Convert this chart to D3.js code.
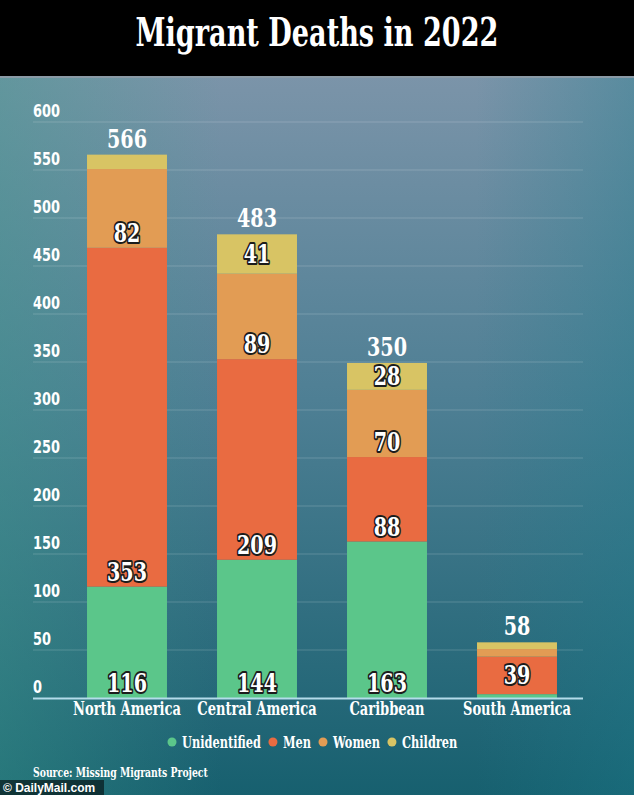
<!DOCTYPE html>
<html>
<head>
<meta charset="utf-8">
<script src="https://cdn.jsdelivr.net/npm/d3@7"></script>
<style>
  html, body { margin: 0; padding: 0; background: #000; }
  svg { display: block; }
  .serif { font-family: "DejaVu Serif", serif; font-weight: bold; }
  .sans { font-family: "DejaVu Sans", sans-serif; font-weight: bold; }
</style>
</head>
<body>
<script>
const title = "Migrant Deaths in 2022";
const categories = ["North America", "Central America", "Caribbean", "South America"];
const seriesNames = ["Unidentified", "Men", "Women", "Children"];
const unidentified = [116, 144, 163, 4];
const men = [353, 209, 88, 39];
const women = [82, 89, 70, 8];
const children = [15, 41, 28, 7];
const totals = [566, 483, 350, 58];
// which segment values are printed on the bars
const shownLabels = [
  [true, true, true, false],
  [true, true, true, true],
  [true, true, true, true],
  [false, true, false, false]
];
const yTicks = [0, 50, 100, 150, 200, 250, 300, 350, 400, 450, 500, 550, 600];
const source = "Source: Missing Migrants Project";
const credit = "© DailyMail.com";
const colors = ["#5bc68a", "#e96b41", "#e29c54", "#d8c464"];

(function () {
const W = 634, H = 795;
const svg = d3.select("body").append("svg").attr("width", W).attr("height", H);
const defs = svg.append("defs");

// condensed-text helper: a text style is squeezed horizontally so that a sample string has a given width
function squeeze(cls, size, sample, targetW) {
  const t = svg.append("text").attr("class", cls).attr("font-size", size).text(sample);
  const w = t.node().getComputedTextLength();
  t.remove();
  return targetW / w;
}
function ctext(parent, cls, size, sx, x, y, anchor, str) {
  const g = parent.append("g").attr("transform", `translate(${x},${y}) scale(${sx},1)`);
  return g.append("text").attr("class", cls).attr("font-size", size)
    .attr("text-anchor", anchor).attr("fill", "#fff").text(str);
}

// background gradient
const g1 = defs.append("linearGradient").attr("id", "bg").attr("x1", 0).attr("y1", 0).attr("x2", 0).attr("y2", 1);
g1.append("stop").attr("offset", 0).attr("stop-color", "#7b94a9");
g1.append("stop").attr("offset", 0.45).attr("stop-color", "#4e7f94");
g1.append("stop").attr("offset", 1).attr("stop-color", "#17606f");
const g2 = defs.append("linearGradient").attr("id", "bgside").attr("x1", 0).attr("y1", 0).attr("x2", 1).attr("y2", 0);
g2.append("stop").attr("offset", 0).attr("stop-color", "#3d9a8c").attr("stop-opacity", 0.4);
g2.append("stop").attr("offset", 0.35).attr("stop-color", "#3d9a8c").attr("stop-opacity", 0);
g2.append("stop").attr("offset", 0.75).attr("stop-color", "#1a7c8c").attr("stop-opacity", 0);
g2.append("stop").attr("offset", 1).attr("stop-color", "#1a7c8c").attr("stop-opacity", 0.35);

svg.append("rect").attr("x", 0).attr("y", 76).attr("width", W).attr("height", H - 76).attr("fill", "url(#bg)");
svg.append("rect").attr("x", 0).attr("y", 76).attr("width", W).attr("height", H - 76).attr("fill", "url(#bgside)");

// title bar
svg.append("rect").attr("x", 0).attr("y", 0).attr("width", W).attr("height", 76).attr("fill", "#000");
svg.append("rect").attr("x", 0).attr("y", 76).attr("width", W).attr("height", 2).attr("fill", "#8a9aa6");
const sxTitle = squeeze("serif", 39, title, 363);
ctext(svg, "serif", 39, sxTitle, W / 2, 46, "middle", title);

// scales
const y = d3.scaleLinear().domain([0, 600]).range([698, 122]);
const x = d3.scaleBand().domain(categories).range([62, 582]).paddingInner(0.385).paddingOuter(0.1925);

// gridlines and y labels
const grid = svg.append("g");
const sxTick = squeeze("sans", 17, "600", 27);
yTicks.forEach(t => {
  if (t > 0) grid.append("line").attr("x1", 33).attr("x2", 583).attr("y1", y(t)).attr("y2", y(t))
    .attr("stroke", "#ffffff").attr("stroke-opacity", 0.18).attr("stroke-width", 1.2);
  ctext(grid, "sans", 17, sxTick, 33, y(t) - 5, "start", t);
});

// stacked data
const rows = categories.map((c, i) => ({
  cat: c, Unidentified: unidentified[i], Men: men[i], Women: women[i], Children: children[i], i
}));
const stack = d3.stack().keys(seriesNames)(rows);

const bars = svg.append("g");
stack.forEach((layer, k) => {
  bars.selectAll(null).data(layer).enter().append("rect")
    .attr("x", d => x(d.data.cat))
    .attr("width", x.bandwidth())
    .attr("y", d => y(d[1]))
    .attr("height", d => y(d[0]) - y(d[1]))
    .attr("fill", colors[k]);
});

// baseline
svg.append("line").attr("x1", 33).attr("x2", 583).attr("y1", y(0) + 0.5).attr("y2", y(0) + 0.5)
  .attr("stroke", "#b4dcea").attr("stroke-width", 2);

// segment labels
const labels = svg.append("g");
const sxVal = squeeze("serif", 26, "566", 40);
stack.forEach((layer, k) => {
  layer.forEach((d, i) => {
    if (!shownLabels[i][k]) return;
    const v = d[1] - d[0];
    let ty = y(d[0]) - 6;
    if (y(d[0]) - y(d[1]) < 50) ty = (y(d[0]) + y(d[1])) / 2 + 9;
    ctext(labels, "serif", 26, sxVal, x(d.data.cat) + x.bandwidth() / 2, ty, "middle", v)
      .attr("stroke", "#1c1c1c").attr("stroke-width", 4)
      .attr("stroke-linejoin", "round").attr("paint-order", "stroke");
  });
});

// totals
const topLayer = stack[stack.length - 1];
topLayer.forEach((d, i) => {
  ctext(svg, "serif", 26, sxVal, x(d.data.cat) + x.bandwidth() / 2, y(d[1]) - 7, "middle", totals[i]);
});

// category labels
const sxCat = squeeze("serif", 18, "North America", 108);
categories.forEach(c => {
  ctext(svg, "serif", 18, sxCat, x(c) + x.bandwidth() / 2, 715, "middle", c);
});

// legend
const leg = svg.append("g");
const sxLeg = squeeze("serif", 17, "Unidentified", 79);
let lx = 172;
seriesNames.forEach((s, k) => {
  leg.append("circle").attr("cx", lx).attr("cy", 742).attr("r", 4.5).attr("fill", colors[k]);
  const t = ctext(leg, "serif", 17, sxLeg, lx + 10, 748, "start", s);
  lx += 10 + t.node().getComputedTextLength() * sxLeg + 12;
});

// source & credit
const sxSrc = squeeze("serif", 13, source, 175);
ctext(svg, "serif", 13, sxSrc, 33, 777, "start", source);
svg.append("rect").attr("x", 0).attr("y", 780).attr("width", 104).attr("height", 15).attr("fill", "#000").attr("fill-opacity", 0.55);
svg.append("text").attr("x", 3).attr("y", 792).attr("font-family", "Liberation Sans, Arial, sans-serif")
  .attr("font-weight", "bold").attr("font-size", 12).attr("fill", "#fff").text(credit);
})();
</script>
</body>
</html>
